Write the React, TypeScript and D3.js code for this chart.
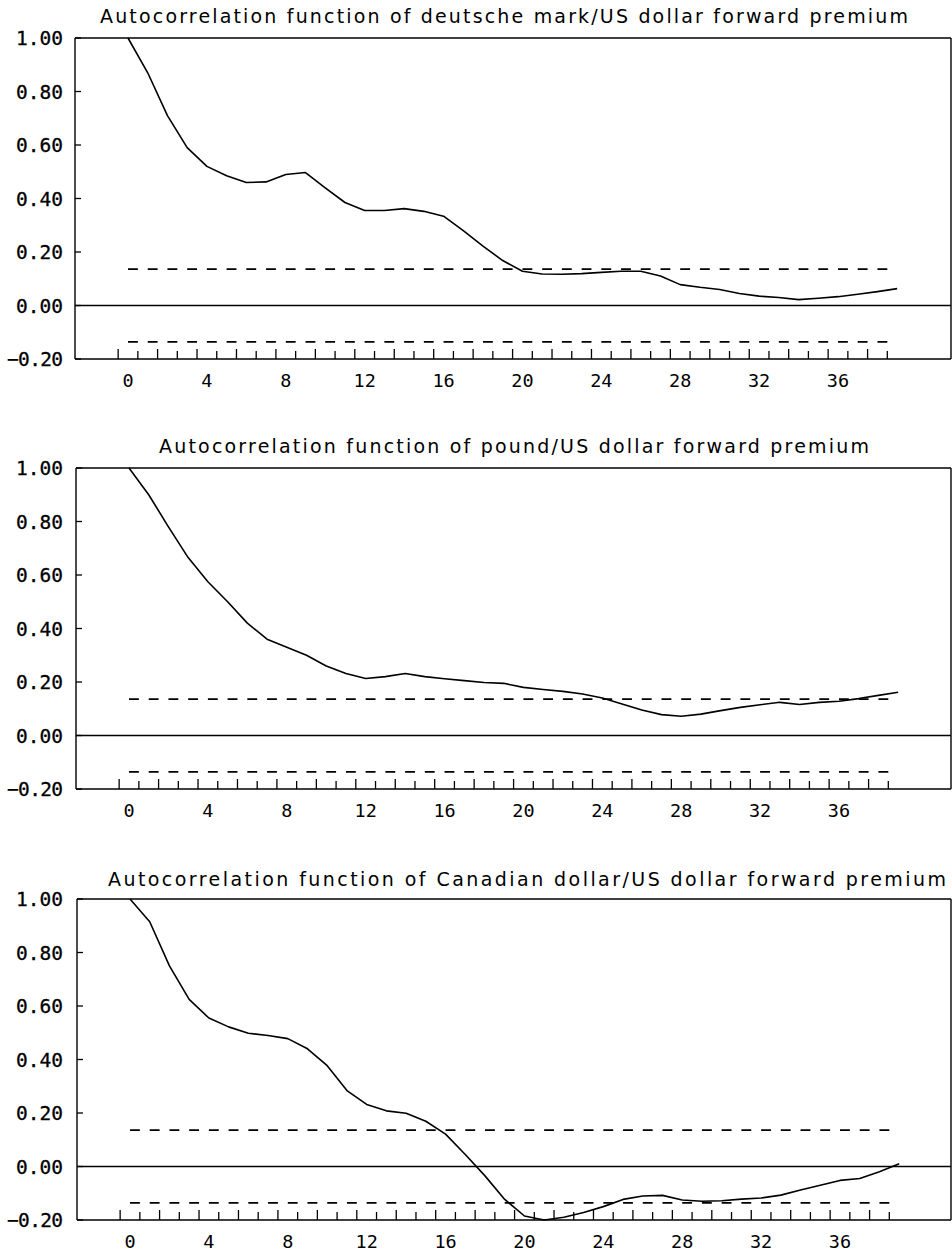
import * as d3 from "d3";

// lags 0..39
const lags = d3.range(0, 40);

const titles = [
  "Autocorrelation function of deutsche mark/US dollar forward premium",
  "Autocorrelation function of pound/US dollar forward premium",
  "Autocorrelation function of Canadian dollar/US dollar forward premium",
];

const markAcf = [
  1.0, 0.87, 0.71, 0.59, 0.52, 0.485, 0.46, 0.462, 0.49, 0.497,
  0.44, 0.385, 0.355, 0.355, 0.362, 0.352, 0.334, 0.28, 0.222, 0.168,
  0.128, 0.118, 0.117, 0.119, 0.124, 0.128, 0.128, 0.11, 0.078, 0.068,
  0.06, 0.045, 0.035, 0.03, 0.022, 0.027, 0.033, 0.042, 0.052, 0.063,
];

const poundAcf = [
  1.0, 0.9, 0.78, 0.665, 0.575, 0.5, 0.42, 0.36, 0.33, 0.3,
  0.26, 0.232, 0.213, 0.22, 0.232, 0.22, 0.212, 0.205, 0.198, 0.195,
  0.18, 0.172, 0.165, 0.155, 0.14, 0.118, 0.095, 0.078, 0.072, 0.08,
  0.093, 0.105, 0.115, 0.124, 0.116, 0.124, 0.128, 0.138, 0.15, 0.162,
];

const cadAcf = [
  1.0, 0.915, 0.75, 0.625, 0.555, 0.522, 0.498, 0.49, 0.478, 0.44,
  0.377, 0.284, 0.232, 0.208, 0.199, 0.169, 0.121, 0.045, -0.035, -0.123,
  -0.185, -0.2, -0.19, -0.172, -0.15, -0.123, -0.11, -0.108, -0.125, -0.13,
  -0.128, -0.122, -0.118, -0.107, -0.088, -0.07, -0.052, -0.045, -0.02, 0.01,
];

const series = [markAcf, poundAcf, cadAcf];

// confidence band (+/- 2 s.e.)
const band = 0.136;

const yTicks = [1.0, 0.8, 0.6, 0.4, 0.2, 0.0, -0.2];
const xTicks = [0, 4, 8, 12, 16, 20, 24, 28, 32, 36];

const W = 952;
const H = 1254;
const panelTops = [38, 468, 899];
const panelShift = [0, 1, 2];
const panelH = 321;
const frameRight = 951;

const Panel = ({ idx }: { idx: number }) => {
  const top = panelTops[idx];
  const dx = panelShift[idx];
  const data = series[idx];

  const x = d3.scaleLinear().domain([0, 36]).range([128 + dx, 838 + dx]);
  const y = d3.scaleLinear().domain([-0.2, 1.0]).range([top + panelH, top]);
  const left = 75 + dx;
  const unit = x(1) - x(0);

  const line = d3
    .line<number>()
    .x((_, i) => x(lags[i]))
    .y((d) => y(d));

  const minorTicks = d3.range(-0.5, 39, 1);
  const bottom = y(-0.2);
  const titleX = [504, 514, 527][idx];
  const titleLen = [808, 710, 838][idx];
  const titleY = [top - 15, top - 15, top - 13][idx];

  return (
    <g>
      <text
        x={titleX}
        y={titleY}
        textAnchor="middle"
        fontFamily="DejaVu Sans"
        fontSize={19}
        textLength={titleLen}
        lengthAdjust="spacing"
      >
        {titles[idx]}
      </text>

      {/* frame */}
      <line x1={left} x2={left} y1={top} y2={bottom} stroke="#000" strokeWidth={1.4} />
      <line x1={left} x2={frameRight} y1={top} y2={top} stroke="#000" strokeWidth={1.4} />
      <line x1={frameRight} x2={frameRight} y1={top} y2={bottom} stroke="#000" strokeWidth={1.4} />
      <line x1={left} x2={frameRight} y1={bottom} y2={bottom} stroke="#000" strokeWidth={1.4} />

      {/* zero line */}
      <line x1={left} x2={frameRight} y1={y(0)} y2={y(0)} stroke="#000" strokeWidth={1.3} />

      {/* y ticks + labels */}
      {yTicks.map((t) => (
        <g key={t}>
          <line x1={left} x2={left + 6} y1={y(t)} y2={y(t)} stroke="#000" strokeWidth={1.3} />
          <text
            x={63}
            y={y(t) + 7}
            textAnchor="end"
            fontFamily="DejaVu Sans Mono"
            fontSize={19.5}
            stroke="#000"
            strokeWidth={0.3}
            textLength={t < 0 ? 56 : 47}
            lengthAdjust="spacing"
          >
            {d3.format(".2f")(t)}
          </text>
        </g>
      ))}

      {/* x ticks */}
      {minorTicks.map((t, i) => (
        <line
          key={t}
          x1={x(t)}
          x2={x(t)}
          y1={bottom}
          y2={bottom - (i % 2 === 0 ? 10 : 8)}
          stroke="#000"
          strokeWidth={1.3}
        />
      ))}
      {xTicks.map((t) => (
        <text
          key={t}
          x={x(t)}
          y={bottom + 28}
          textAnchor="middle"
          fontFamily="DejaVu Sans Mono"
          fontSize={18.5}
        >
          {t}
        </text>
      ))}

      {/* confidence bands */}
      {[band, -band].map((b) => (
        <line
          key={b}
          x1={x(0)}
          x2={x(38.5)}
          y1={y(b)}
          y2={y(b)}
          stroke="#000"
          strokeWidth={1.7}
          strokeDasharray={`${unit * 0.5},${unit * 0.5}`}
        />
      ))}

      <path d={line(data) || ""} fill="none" stroke="#000" strokeWidth={1.6} strokeLinejoin="round" />
    </g>
  );
};

const App = () => {
  return (
    <div style={{ position: "absolute", left: 0, top: 0, background: "#fff" }}>
      <svg width={W} height={H} style={{ display: "block" }}>
        <rect width={W} height={H} fill="#fff" />
        {[0, 1, 2].map((i) => (
          <Panel key={i} idx={i} />
        ))}
      </svg>
    </div>
  );
};

export default App;
